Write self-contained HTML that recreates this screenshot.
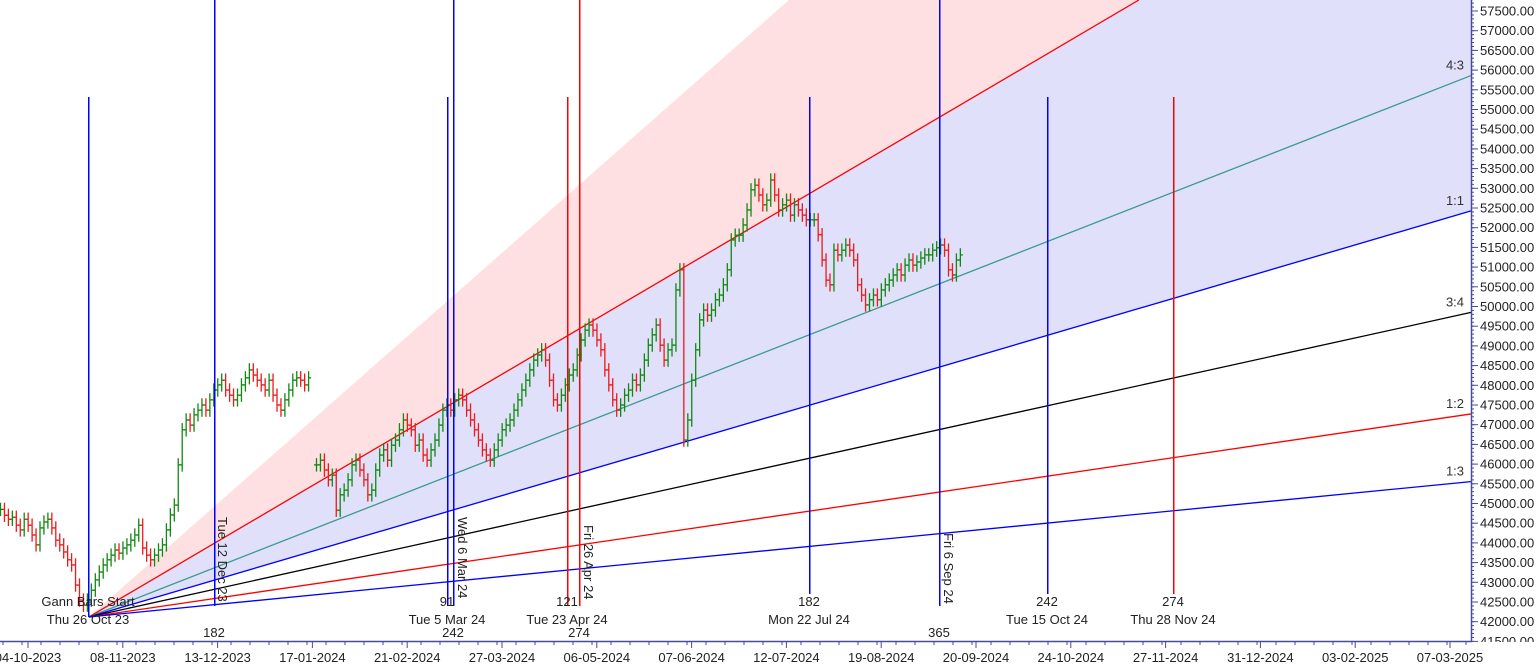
<!DOCTYPE html>
<html><head><meta charset="utf-8"><style>
html,body{margin:0;padding:0;background:#fff;}
svg{display:block;font-family:"Liberation Sans",Arial,sans-serif;}
</style></head><body>
<svg id="chart" width="1540" height="667" viewBox="0 0 1540 667">
<g id="fills"></g>
<g id="fan"></g>
<g id="bars"></g>
<g id="vlines"></g>
<g id="labels"></g>
<g id="yaxis"></g>
<g id="xaxis"></g>
</svg>
<script>
const closes = [44850,44700,44600,44650,44450,44330,44600,44450,44200,43950,44380,44530,44600,44380,44070,43950,43770,43570,43440,42930,42550,42420,
42550,42800,43060,43260,43440,43570,43690,43820,43740,43870,43950,44070,44200,44450,43870,43690,43570,43690,43820,43950,44330,44710,44960,45980,46870,47120,46990,47250,47370,47500,47370,47630,47880,48010,48130,47880,47750,47630,47750,48010,48190,48390,48260,48130,48010,47880,48130,47750,47500,47370,47630,47880,48130,48190,48130,48010,48190,
null,
45980,46100,45850,45600,45720,44830,45220,45340,45600,45980,46100,45850,45600,45220,45340,45850,46230,46360,46100,46480,46610,46870,47120,46990,46870,46480,46610,46230,46100,46360,46610,46990,47370,47500,47370,47630,
47750,47630,47370,47120,46870,46610,46360,46230,46100,46360,46610,46870,46990,47120,47370,47630,47880,48130,48390,48640,48770,48900,48640,
48130,47630,47500,47750,48010,48260,48390,48770,49150,49400,49530,49400,49150,48900,
48390,48010,47630,47370,47500,47750,47880,48130,48010,48260,48640,49020,49280,49530,49020,48640,48900,49020,
50420,50930,46610,47120,48130,48900,49660,49910,49780,49910,50170,50290,50550,50930,51690,51810,51810,
52070,52450,52960,53080,52830,52580,52700,53210,52830,52450,52580,52700,52320,52580,52450,52320,52200,52200,
52200,51820,51180,50670,50550,51430,51310,51430,51560,51430,51180,
50550,50290,50040,50170,50290,50170,50420,50550,50670,50800,50930,50800,51050,51180,51050,51130,51230,51310,51310,51430,51490,51560,51430,
50930,50800,51180,51310];
const wick = 170;
const yTicks = [41500,42000,42500,43000,43500,44000,44500,45000,45500,46000,46500,47000,47500,48000,48500,49000,49500,50000,50500,51000,51500,52000,52500,53000,53500,54000,54500,55000,55500,56000,56500,57000,57500];
const dateLabels = ["04-10-2023","08-11-2023","13-12-2023","17-01-2024","21-02-2024","27-03-2024","06-05-2024","07-06-2024","12-07-2024","19-08-2024","20-09-2024","24-10-2024","27-11-2024","31-12-2024","03-02-2025","07-03-2025"];
const fanRatios = [2,4/3,1,3/4,1/2,1/3];
const fanNames = ["2:1","4:3","1:1","3:4","1:2","1:3"];
const fanColors = ["#ff0000","#3a9a8a","#0000ff","#000000","#ff0000","#0000ff"];
const gannOrigin = {i:22, price:42120};

const NS="http://www.w3.org/2000/svg";
const PR=1471, BOT=641;
function yS(v){return 11+(57500-v)*0.0394;}
function xS(i){return 0.5+i*3.95;}
function mk(tag,attrs,parent){const e=document.createElementNS(NS,tag);for(const k in attrs)e.setAttribute(k,attrs[k]);parent.appendChild(e);return e;}
const G=id=>document.getElementById(id);

const ox=xS(gannOrigin.i)+1.5, oy=yS(gannOrigin.price);
const unit=0.2938;
function fanY(r,x){return oy-r*unit*(x-ox);}
function poly(r1,r2,fill,name){
  function endPt(r){const y=fanY(r,PR); if(y>=0)return [PR,y]; return [ox+oy/(r*unit),0];}
  const a=endPt(r1), b=endPt(r2);
  const p=[[ox,oy],a];
  if(a[1]===0 && b[1]!==0) p.push([PR,0]);
  p.push(b);
  const el=mk('polygon',{points:p.map(q=>q.join(',')).join(' '),fill:fill},G('fills'));
  
  
}
poly(3,2,"#ffe0e2","pink-fan-zone");
poly(2,1,"#e0e0fb","blue-fan-zone");
fanRatios.forEach((r,k)=>{
  let x2=PR,y2=fanY(r,PR); if(y2<0){x2=ox+oy/(r*unit);y2=0;}
  const l=mk('line',{x1:ox,y1:oy,x2:x2,y2:y2,stroke:fanColors[k],'stroke-width':1.3},G('fan'));
  
  
  if(y2>0){
    const t=mk('text',{x:PR-16,y:y2-6,'font-size':13,fill:'#333','text-anchor':'middle'},G('fan'));
    t.textContent=fanNames[k];
    
    
  }
});

let prev=null;
closes.forEach((c,i)=>{
  if(c===null){prev=null;return;}
  const o=prev===null?c:prev; prev=c;
  const hi=Math.max(o,c)+wick, lo=Math.min(o,c)-wick;
  const col=c>=o?"#118811":"#f01818";
  const x=xS(i);
  const g=mk('g',{stroke:col,'stroke-width':1.3},G('bars'));
  
  
  mk('line',{x1:x,y1:yS(hi),x2:x,y2:yS(lo)},g);
  mk('line',{x1:x-2.5,y1:yS(o),x2:x,y2:yS(o)},g);
  mk('line',{x1:x,y1:yS(c),x2:x+2.5,y2:yS(c)},g);
});

const vl=[[88,97,617,"#0000ff"],[214,0,606,"#0000ff"],[447,97,606,"#0000ff"],[453,0,606,"#0000ff"],[567,97,606,"#ff0000"],[579,0,606,"#ff0000"],[809,97,594,"#0000ff"],[939,0,606,"#0000ff"],[1047,97,594,"#0000ff"],[1173,97,594,"#ff0000"]];
vl.forEach(v=>{const l=mk('rect',{x:v[0],y:v[1],width:1.5,height:v[2]-v[1],fill:v[3]},G('vlines'));
  
  });

const tl=[[88,606,"Gann Bars Start"],[88,624,"Thu 26 Oct 23"],[214,637,"182"],[447,606,"91"],[447,624,"Tue 5 Mar 24"],[453,637,"242"],[567,606,"121"],[567,624,"Tue 23 Apr 24"],[579,637,"274"],[809,606,"182"],[809,624,"Mon 22 Jul 24"],[939,637,"365"],[1047,606,"242"],[1047,624,"Tue 15 Oct 24"],[1173,606,"274"],[1173,624,"Thu 28 Nov 24"]];
tl.forEach(t=>{const e=mk('text',{x:t[0],y:t[1],'font-size':13,fill:'#222','text-anchor':'middle'},G('labels'));e.textContent=t[2];
  
  });
const rl=[[218,517,"Tue 12 Dec 23"],[458,517,"Wed 6 Mar 24"],[584,525,"Fri 26 Apr 24"],[944,533,"Fri 6 Sep 24"]];
rl.forEach(t=>{const e=mk('text',{x:0,y:0,'font-size':13,fill:'#222',transform:`translate(${t[0]},${t[1]}) rotate(90)`},G('labels'));e.textContent=t[2];
  
  });

mk('rect',{x:PR+1,y:0,width:69,height:667,fill:'#fff'},G('yaxis'));
mk('line',{x1:PR+.5,y1:0,x2:PR+.5,y2:BOT,stroke:'#4a4a9a','stroke-width':1.5},G('yaxis'));
for(let v=41500;v<=57750;v+=100){mk('line',{x1:PR,y1:yS(v),x2:PR+3,y2:yS(v),stroke:'#4a4a9a'},G('yaxis'));}
yTicks.forEach(v=>{
  mk('line',{x1:PR,y1:yS(v),x2:PR+7,y2:yS(v),stroke:'#4a4a9a'},G('yaxis'));
  const t=mk('text',{x:PR+9,y:yS(v)+4.5,'font-size':13,fill:'#222'},G('yaxis'));t.textContent=v.toFixed(2);
  
  
});
mk('rect',{x:0,y:BOT+1,width:1540,height:30,fill:'#fff'},G('xaxis'));
mk('line',{x1:0,y1:BOT+.5,x2:PR+1,y2:BOT+.5,stroke:'#4a4a9a','stroke-width':1.5},G('xaxis'));
for(let x=3;x<PR;x+=19){mk('line',{x1:x,y1:BOT,x2:x,y2:BOT+4,stroke:'#4a4a9a'},G('xaxis'));}
dateLabels.forEach((d,k)=>{
  const x=28+k*94.8;
  mk('line',{x1:x,y1:BOT,x2:x,y2:BOT+7,stroke:'#4a4a9a'},G('xaxis'));
  const t=mk('text',{x:x,y:662,'font-size':13,fill:'#222','text-anchor':'middle'},G('xaxis'));t.textContent=d;
  
  
});
</script>
</body></html>
